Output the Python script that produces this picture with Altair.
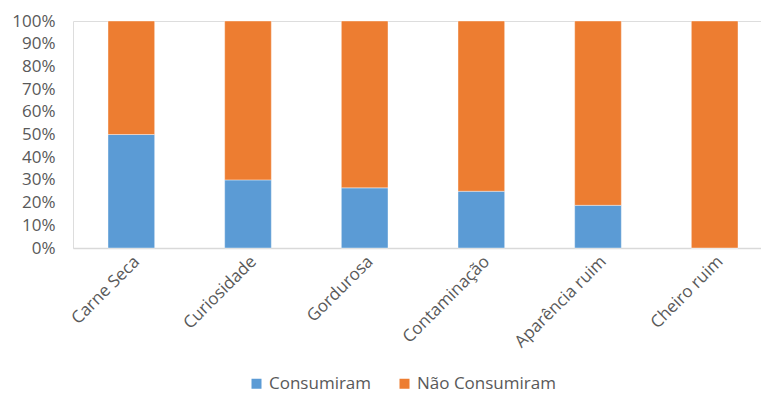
import altair as alt
import pandas as pd

categories = ["Carne Seca", "Curiosidade", "Gordurosa", "Contaminação", "Aparência ruim", "Cheiro ruim"]
consumiram = [50, 30, 26.5, 25, 18.8, 0]
nao_consumiram = [100 - v for v in consumiram]
series = ["Consumiram", "Não Consumiram"]
colors = ["#5B9BD5", "#ED7D31"]

rows = []
for c, a, b in zip(categories, consumiram, nao_consumiram):
    rows.append({"cat": c, "serie": series[0], "val": a / 100, "ord": 0})
    rows.append({"cat": c, "serie": series[1], "val": b / 100, "ord": 1})
df = pd.DataFrame(rows)

FONT = "Open Sans"
GRAY = "#595959"
FS = 17

chart = alt.Chart(df).mark_bar(stroke="white", strokeWidth=0.8, strokeOpacity=0.5).encode(
    x=alt.X("cat:N", sort=categories, title=None,
            scale=alt.Scale(range=[0, 700], paddingInner=0.6, paddingOuter=0.3),
            axis=alt.Axis(labelAngle=-45, labelFont=FONT, labelFontSize=FS, labelColor=GRAY,
                          ticks=False, domainColor="#d9d9d9", domainWidth=1.5,
                          labelPadding=5, labelLimit=220)),
    y=alt.Y("val:Q", stack="zero", title=None,
            scale=alt.Scale(domain=[0, 1], nice=False),
            axis=alt.Axis(format=".0%", values=[i / 10 for i in range(11)], grid=False,
                          domain=False, ticks=False, labelFont=FONT, labelFontSize=FS,
                          labelColor=GRAY, labelPadding=18)),
    color=alt.Color("serie:N", sort=series, scale=alt.Scale(domain=series, range=colors),
                    legend=alt.Legend(title=None, orient="none", legendX=175, legendY=354,
                                      direction="horizontal", symbolType="square",
                                      symbolSize=100, symbolStrokeWidth=0,
                                      labelFont=FONT, labelFontSize=FS, labelColor=GRAY,
                                      columnPadding=24, labelOffset=4)),
    order=alt.Order("ord:Q"),
).properties(
    width=688, height=227,
    autosize=alt.AutoSizeParams(type="none"),
    padding={"left": 73, "top": 21, "right": 0, "bottom": 146},
).configure_view(stroke=None).configure(background="white")

chart.save("out.html", embed_options={"renderer": "svg", "actions": False})
